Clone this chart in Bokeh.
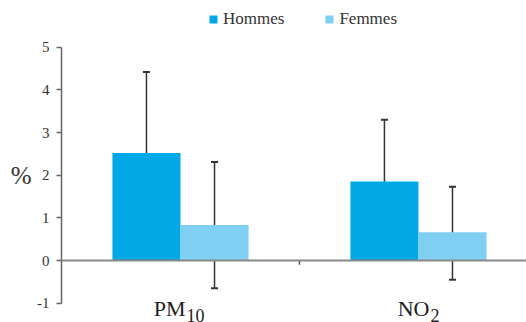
from bokeh.plotting import figure
from bokeh.models import (ColumnDataSource, Whisker, Legend, LegendItem, FixedTicker,
                          Span, TeeHead, Range1d, LinearAxis)
from bokeh.core.properties import value
from bokeh.embed import file_html
from bokeh.resources import INLINE

# ---- data ----
cat_main = ["PM", "NO"]
cat_sub = ["10", "2"]
series = ["Hommes", "Femmes"]
hommes = [2.52, 1.85]
femmes = [0.83, 0.66]
hommes_lo = [0.67, 0.37]
hommes_hi = [4.42, 3.30]
femmes_lo = [-0.65, -0.45]
femmes_hi = [2.31, 1.73]
yticks = [-1, 0, 1, 2, 3, 4, 5]
ytick_labels = {t: ("-1" if t == -1 else str(t)) for t in yticks}
y_title = "%"
y_title_at = 2

# ---- styling ----
FONT = "Liberation Serif"
C_H = "#00A9E5"
C_F = "#7FCFF3"
TXT = "#333333"
BAR_W = 0.286
n = len(cat_main)
centers = [i + 0.5 for i in range(n)]

src_h = ColumnDataSource(dict(x=[c - BAR_W / 2 for c in centers], top=hommes,
                              lo=hommes_lo, hi=hommes_hi))
src_f = ColumnDataSource(dict(x=[c + BAR_W / 2 for c in centers], top=femmes,
                              lo=femmes_lo, hi=femmes_hi))

p = figure(width=526, height=322, output_backend="svg", toolbar_location=None,
           x_range=Range1d(0, 1.954), y_range=Range1d(-1.453, 6.094),
           min_border_left=61, min_border_right=0, min_border_top=0, min_border_bottom=0)
p.outline_line_color = None
p.grid.visible = False
p.xaxis.visible = False
p.background_fill_color = "white"

# y axis
ya = p.yaxis[0]
ya.bounds = (min(yticks), max(yticks))
ya.ticker = FixedTicker(ticks=yticks)
ya.major_label_overrides = ytick_labels
ya.minor_tick_line_color = None
ya.major_tick_in = 0
ya.major_tick_out = 5
ya.axis_line_color = "#666666"
ya.axis_line_width = 1.5
ya.major_tick_line_color = "#666666"
ya.major_tick_line_width = 1.5
ya.major_label_text_font = FONT
ya.major_label_text_font_size = "15px"
ya.major_label_text_color = TXT
ya.major_label_standoff = 7

# "%" title as an outer, line-less axis
ta = LinearAxis(ticker=FixedTicker(ticks=[y_title_at]),
                major_label_overrides={y_title_at: y_title},
                axis_line_color=None, major_tick_line_color=None,
                minor_tick_line_color=None, major_tick_in=0, major_tick_out=0,
                major_label_standoff=3, major_label_text_font=FONT,
                major_label_text_font_size="25px", major_label_text_color=TXT)
p.add_layout(ta, "left")

# bars
r_h = p.vbar(x="x", top="top", bottom=0, width=BAR_W, source=src_h, fill_color=C_H, line_color=None)
r_f = p.vbar(x="x", top="top", bottom=0, width=BAR_W, source=src_f, fill_color=C_F, line_color=None)

# zero line
p.add_layout(Span(location=0, dimension="width", line_color="#888888", line_width=2))

# category divider tick
bounds_x = [i + 1 for i in range(n - 1)]
p.segment(x0=bounds_x, x1=bounds_x, y0=[0] * len(bounds_x), y1=[-0.1] * len(bounds_x),
          line_color="#555555", line_width=1.5)

# error bars
for src in (src_h, src_f):
    w = Whisker(base="x", upper="hi", lower="lo", source=src,
                line_color="#333333", line_width=1.5,
                upper_head=TeeHead(size=7, line_color="#333333", line_width=2),
                lower_head=TeeHead(size=7, line_color="#333333", line_width=2))
    p.add_layout(w)

# category labels (main + subscript)
main_off = [5, 11]
lab_src = ColumnDataSource(dict(x=centers, main=cat_main, sub=cat_sub, off=main_off,
                                suboff=[o + 1 for o in main_off]))
p.text(x="x", y=-1, text="main", source=lab_src, x_offset="off", y_offset=5,
       text_align="right", text_baseline="alphabetic", text_font=value(FONT),
       text_font_size="22px", text_color="#222222")
p.text(x="x", y=-1, text="sub", source=lab_src, x_offset="suboff", y_offset=12,
       text_align="left", text_baseline="alphabetic", text_font=value(FONT),
       text_font_size="18px", text_color="#222222")

# legend
legend = Legend(items=[LegendItem(label=series[0], renderers=[r_h]),
                       LegendItem(label=series[1], renderers=[r_f])],
                orientation="horizontal", location=(147, 293),
                padding=0, margin=0, spacing=40, label_standoff=5,
                glyph_width=10, glyph_height=10, label_height=10,
                label_text_font=FONT, label_text_font_size="17px",
                label_text_color=TXT, border_line_color=None,
                background_fill_alpha=0)
p.add_layout(legend, "center")

open("out.html", "w").write(file_html(p, INLINE))
